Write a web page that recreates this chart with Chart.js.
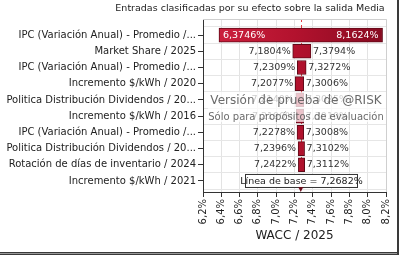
<!DOCTYPE html>
<html>
<head>
<meta charset="utf-8">
<script src="https://cdn.jsdelivr.net/npm/chart.js@4"></script>
<style>
  html, body { margin: 0; padding: 0; background: #fff; }
  #wrap { width: 400px; height: 261px; position: relative; }
</style>
</head>
<body>
<div id="wrap"><canvas id="chart" width="400" height="261"></canvas></div>
<script>
const FONT = "'DejaVu Sans', Verdana, sans-serif";

// inputs, sorted by effect (top = biggest swing)
const inputs = [
    'IPC (Variación Anual) - Promedio /...',
    'Market Share / 2025',
    'IPC (Variación Anual) - Promedio /...',
    'Incremento $/kWh / 2020',
    'Politica Distribución Dividendos / 20...',
    'Incremento $/kWh / 2016',
    'IPC (Variación Anual) - Promedio /...',
    'Politica Distribución Dividendos / 20...',
    'Rotación de días de inventario / 2024',
    'Incremento $/kWh / 2021'
];
const lowValues  = [6.3746, 7.1804, 7.2309, 7.2077, 7.2140, 7.2190, 7.2278, 7.2396, 7.2422, 7.2400];
const highValues = [8.1624, 7.3794, 7.3272, 7.3006, 7.3025, 7.3010, 7.3008, 7.3102, 7.3112, 7.3060];
const baseline = 7.2682;
const xTicks = [6.2, 6.4, 6.6, 6.8, 7.0, 7.2, 7.4, 7.6, 7.8, 8.0, 8.2];
const title = 'Entradas clasificadas por su efecto sobre la salida Media';

const pct = v => v.toFixed(4).replace('.', ',') + '%';
const isRow = c => c.tick && Number.isInteger(c.tick.value);

function barFill(c) {
    const a = c.chart.chartArea;
    if (!a) return '#b3142f';
    const g = c.chart.ctx.createLinearGradient(a.left, 0, a.right, 0);
    g.addColorStop(0, '#d0223f');
    g.addColorStop(0.5, '#b3122e');
    g.addColorStop(1, '#860a20');
    return g;
}

const extras = {
    id: 'extras',
    beforeDatasetsDraw(chart) {
        const {ctx, chartArea: a, scales} = chart;
        const bx = scales.x.getPixelForValue(baseline);
        ctx.save();
        ctx.strokeStyle = '#e23a44';
        ctx.lineWidth = 1;
        ctx.setLineDash([3, 3]);
        ctx.beginPath();
        ctx.moveTo(Math.round(bx) + 0.5, a.top);
        ctx.lineTo(Math.round(bx) + 0.5, a.bottom);
        ctx.stroke();
        ctx.restore();
    },
    afterDatasetsDraw(chart) {
        const {ctx, chartArea: a, scales} = chart;
        const meta = chart.getDatasetMeta(0);
        ctx.save();
        ctx.textBaseline = 'middle';

        // title
        ctx.font = '9.5px ' + FONT;
        ctx.fillStyle = '#222';
        ctx.textAlign = 'center';
        ctx.fillText(title, 250, 9);

        ctx.font = '9.5px ' + FONT;
        meta.data.forEach((bar, i) => {
            const lo = Math.min(bar.base, bar.x), hi = Math.max(bar.base, bar.x);
            if (hi - lo > 100) {
                ctx.fillStyle = '#fff';
                ctx.textAlign = 'left';
                ctx.fillText(pct(lowValues[i]), lo + 4, bar.y);
                ctx.textAlign = 'right';
                ctx.fillText(pct(highValues[i]), hi - 4, bar.y);
            } else {
                ctx.fillStyle = '#333';
                ctx.textAlign = 'right';
                ctx.fillText(pct(lowValues[i]), lo - 2, bar.y);
                ctx.textAlign = 'left';
                ctx.fillText(pct(highValues[i]), hi + 2, bar.y);
            }
        });

        // trial watermark
        const y5 = meta.data[4].y, y6 = meta.data[5].y;
        ctx.fillStyle = 'rgba(255,255,255,0.75)';
        ctx.fillRect(208, y5 - 8, 178, 30);
        ctx.textAlign = 'center';
        ctx.fillStyle = 'rgba(90,90,90,0.9)';
        ctx.font = '12px ' + FONT;
        ctx.fillText('Versión de prueba de @RISK', 296, y5 + 1);
        ctx.font = '10px ' + FONT;
        ctx.fillText('Sólo para propósitos de evaluación', 296, y6 + 1);

        // baseline box
        const bx = scales.x.getPixelForValue(baseline);
        const y10 = meta.data[9].y;
        ctx.fillStyle = '#fff';
        ctx.fillRect(245.5, y10 - 6.5, 112, 13);
        ctx.strokeStyle = '#333';
        ctx.lineWidth = 1;
        ctx.strokeRect(245.5, y10 - 6.5, 112, 13);
        ctx.fillStyle = '#222';
        ctx.font = '9.5px ' + FONT;
        ctx.fillText('Línea de base = ' + pct(baseline), 301.5, y10 + 0.5);

        // baseline marker on the axis
        ctx.fillStyle = '#6b0d1c';
        ctx.beginPath();
        ctx.moveTo(bx - 2.5, a.bottom - 5);
        ctx.lineTo(bx + 2.5, a.bottom - 5);
        ctx.lineTo(bx, a.bottom);
        ctx.closePath();
        ctx.fill();

        // plot frame
        ctx.strokeStyle = '#cfcfcf';
        ctx.beginPath();
        ctx.moveTo(a.left, a.top + 0.5);
        ctx.lineTo(a.right + 0.5, a.top + 0.5);
        ctx.lineTo(a.right + 0.5, a.bottom);
        ctx.stroke();

        // outer frame (right + bottom)
        ctx.fillStyle = '#3a3a3a';
        ctx.fillRect(397, 0, 2, 255);
        ctx.fillRect(0, 252, 399, 3);
        ctx.fillStyle = '#999';
        ctx.fillRect(0, 253, 397, 1);
        ctx.restore();
    }
};

const ctx = document.getElementById('chart').getContext('2d');
new Chart(ctx, {
    type: 'bar',
    data: {
        datasets: [{
            data: inputs.map((_, i) => ({ x: [lowValues[i], highValues[i]], y: i })),
            backgroundColor: barFill,
            borderColor: '#5e0a18',
            borderWidth: 1,
            borderSkipped: false,
            barThickness: 14
        }]
    },
    options: {
        indexAxis: 'y',
        responsive: false,
        animation: false,
        layout: { padding: { left: 0, right: 7, top: 19, bottom: 18 } },
        plugins: {
            legend: { display: false },
            tooltip: { enabled: false },
            title: { display: false }
        },
        scales: {
            x: {
                type: 'linear',
                min: 6.2,
                max: 8.2,
                afterBuildTicks: s => { s.ticks = xTicks.map(v => ({ value: v })); },
                afterFit: s => { s.height = 51; },
                ticks: {
                    callback: v => v.toFixed(1).replace('.', ',') + '%',
                    minRotation: 90,
                    maxRotation: 90,
                    color: '#222',
                    padding: 2,
                    font: { family: FONT, size: 10 }
                },
                grid: { color: '#e3e3e3', tickColor: '#333', tickLength: 5 },
                border: { color: '#333' },
                title: {
                    display: true,
                    text: 'WACC / 2025',
                    color: '#222',
                    font: { family: FONT, size: 12 },
                    padding: { top: 2, bottom: 0 }
                }
            },
            y: {
                type: 'linear',
                reverse: true,
                offset: false,
                min: -0.99,
                max: 9.68,
                afterBuildTicks: s => {
                    const t = [];
                    for (let v = -0.5; v <= 9.5; v += 0.5) t.push({ value: v });
                    s.ticks = t;
                },
                afterFit: s => { s.width = 203; },
                ticks: {
                    autoSkip: false,
                    callback: v => Number.isInteger(v) ? inputs[v] : '',
                    color: '#222',
                    padding: 2,
                    font: { family: FONT, size: 10 }
                },
                grid: {
                    offset: false,
                    color: c => isRow(c) ? 'rgba(0,0,0,0)' : '#e6e6e6',
                    tickColor: c => isRow(c) ? '#333' : 'rgba(0,0,0,0)',
                    tickLength: 5
                },
                border: { color: '#333' }
            }
        }
    },
    plugins: [extras]
});
</script>
</body>
</html>
